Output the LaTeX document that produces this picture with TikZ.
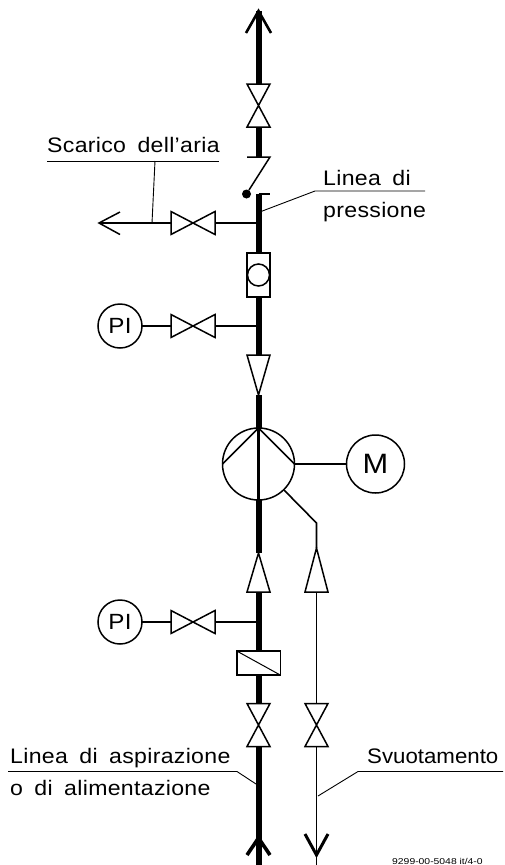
\documentclass[tikz,border=0pt]{standalone}
\usepackage{fontspec}
\setmainfont{Liberation Sans}[FakeStretch=1.1,WordSpace=1.7,LetterSpace=1.5]
\newfontfamily\smallcode{Liberation Sans}[FakeStretch=1.22]
\newfontfamily\tightlabel{Liberation Sans}[FakeStretch=1.06]
\tikzset{
  pipe/.style={line width=6pt},
  thin pipe/.style={line width=1.6pt},
  sym/.style={line width=1.5pt,line join=miter},
  lead/.style={line width=0.9pt},
  anchorbox/.style={inner sep=0pt,outer sep=0pt},
  instr/.style={circle,draw,line width=1.5pt,fill=white,inner sep=0pt,outer sep=0pt,font=\fontsize{22}{22}\selectfont},
  lab/.style={anchor=base west,inner sep=0pt,font=\fontsize{21}{21}\selectfont},
}
\newcommand{\bowtieV}[3]{\node[anchorbox,minimum width=23pt,minimum height=43pt] (#1) at (#2,#3) {};
  \draw[sym] (#1.north west)--(#1.north east)--(#1.south west)--(#1.south east)--cycle;}
\newcommand{\bowtieH}[3]{\node[anchorbox,minimum width=44pt,minimum height=23pt] (#1) at (#2,#3) {};
  \draw[sym] (#1.north west)--(#1.south west)--(#1.north east)--(#1.south east)--cycle;}
\begin{document}
\begin{tikzpicture}[x=1pt,y=-1pt]
\useasboundingbox (0,0) rectangle (504,865);
% free ends
\coordinate (topEnd) at (258.5,11);
\coordinate (botEnd) at (258.5,865);
\coordinate (drainEnd) at (316.5,865);
\coordinate (airTip) at (99,223);
\coordinate (teeA) at (258.5,223);
\coordinate (teeB) at (258.5,326);
\coordinate (teeC) at (258.5,622);
% valves
\bowtieV{v1}{258.5}{105.5}
\bowtieH{v2}{193}{223}
\bowtieH{v3}{193}{326}
\bowtieH{v4}{193}{622}
\bowtieV{v5}{258.5}{725}
\bowtieV{v6}{316.5}{725}
% check valve
\coordinate (ckTop) at (258.5,157);
\coordinate (ckBot) at (258.5,194);
\draw[sym] (247,157)--(270,157)--(249,190);
\draw[sym] (258.5,194)--(270,194);
\fill (246.5,194) circle (4.5);
% flow meter
\node[anchorbox,draw,line width=1.5pt,minimum width=23pt,minimum height=44pt] (fm) at (258.5,275) {};
\draw[sym] (258.5,275) circle (11);
% reducers
\node[anchorbox,minimum width=23pt,minimum height=40pt] (r1) at (258.5,375) {};
\draw[sym] (r1.north west)--(r1.north east)--(r1.south)--cycle;
\node[anchorbox,minimum width=23pt,minimum height=39pt] (r2) at (258.5,572.5) {};
\draw[sym] (r2.south west)--(r2.south east)--(r2.north)--cycle;
\node[anchorbox,minimum width=23pt,minimum height=44pt] (r3) at (316.5,570) {};
\draw[sym] (r3.south west)--(r3.south east)--(r3.north)--cycle;
% strainer
\node[anchorbox,draw,line width=1.5pt,minimum width=43.5pt,minimum height=24pt] (st) at (258.5,663) {};
\draw[line width=1pt] (st.north west)--(st.south east);
% pump and motor
\node[instr,minimum size=72pt] (pump) at (258.5,464) {};
\draw[sym] (pump.west)--(pump.north)--(pump.east);
\draw[line width=2.6pt] (pump.north)--(pump.south);
\node[instr,minimum size=58pt] (motor) at (375.5,464) {\fontsize{28}{28}\selectfont M};
\draw[sym] (pump.east)--(motor.west);
% instruments
\node[instr,minimum size=44pt] (pi1) at (120,326) {PI};
\node[instr,minimum size=44pt] (pi2) at (120,622) {PI};
% thick pipes
\draw[pipe] (topEnd)--(v1.north);
\draw[pipe] (v1.south)--(ckTop);
\draw[pipe] (ckBot)--(fm.north);
\draw[pipe] (fm.south)--(r1.north);
\draw[pipe] (r1.south)--(pump.north);
\draw[pipe] (pump.south)--(r2.north);
\draw[pipe] (r2.south)--(st.north);
\draw[pipe] (st.south)--(v5.north);
\draw[pipe] (v5.south)--(botEnd);
% thin pipes
\draw[thin pipe] (teeA)--(v2.east);
\draw[thin pipe] (v2.west)--(airTip);
\draw[thin pipe] (teeB)--(v3.east);
\draw[thin pipe] (v3.west)--(pi1.east);
\draw[thin pipe] (teeC)--(v4.east);
\draw[thin pipe] (v4.west)--(pi2.east);
\coordinate (pumpOut) at (284,490);
\draw[thin pipe] (pumpOut)--(316.5,523)--(r3.north);
\draw[thin pipe] (r3.south)--(v6.north);
\draw[thin pipe] (v6.south)--(drainEnd);
% arrowheads
\draw[line width=2.6pt,line join=miter] (246,33)--(topEnd)--(271,33);
\draw[sym] (120,212)--(airTip)--(120,234.5);
\draw[line width=3.6pt] (247,855)--(258.5,838)--(270,855);
\draw[line width=3pt] (305,834)--(316.5,855)--(328,834);
% labels and leaders
\node[lab] (tAir) at (47,152) {Scarico dell'aria};
\coordinate (lAirA) at (47,161); \coordinate (lAirB) at (219,161);
\draw[lead] (lAirA)--(lAirB);
\draw[lead] (155,161)--(152,223);
\node[lab] (tPr1) at (323,185) {Linea di};
\node[lab] (tPr2) at (323,217) {pressione};
\draw[lead] (261,211.5)--(315,191)--(425,191);
\node[lab] (tAsp1) at (10,763) {Linea di aspirazione};
\node[lab] (tAsp2) at (10,795) {o di alimentazione};
\draw[lead] (8,771.5)--(237,771.5)--(256,784);
\node[lab,font=\tightlabel\fontsize{21}{21}\selectfont] (tSv) at (367,763) {Svuotamento};
\draw[lead] (318,796)--(358,771.5)--(503,771.5);
\node[anchor=base west,inner sep=0pt,font=\smallcode\fontsize{8.5}{8.5}\selectfont] (code) at (392,864.5) {9299-00-5048 it/4-0};
\end{tikzpicture}
\end{document}
